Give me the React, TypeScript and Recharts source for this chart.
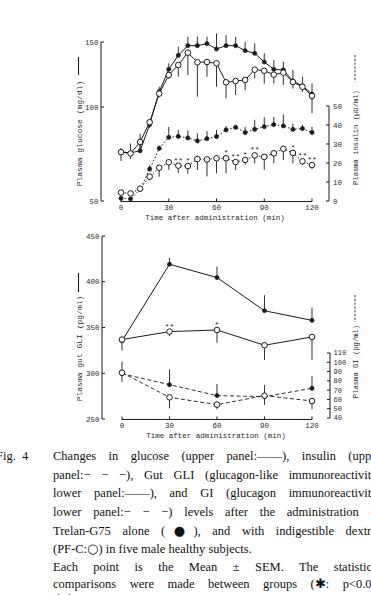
import React from 'react';
import { ComposedChart, Line, XAxis, YAxis, ErrorBar, ReferenceLine, LabelList } from 'recharts';

// ---- sampling times (min) ----
const upperTimes = [0, 6, 12, 18, 24, 30, 36, 42, 48, 54, 60, 66, 72, 78, 84, 90, 96, 102, 108, 114, 120];
const lowerTimes = [0, 30, 60, 90, 120];

// ---- plasma glucose (mg/dl), mean and SEM ----
const glucoseAlone = [76.1, 75.6, 76.7, 90.7, 111.8, 129.0, 139.7, 147.2, 147.2, 148.7, 144.6, 147.2, 147.2, 143.3, 141.3, 134.6, 129.0, 128.5, 120.0, 116.2, 110.0];
const glucoseAloneSem = [2, 5, 9, 2.5, 3.8, 4.6, 6.7, 6.9, 6.9, 5.4, 12, 8.2, 6.9, 6.9, 7.7, 6.7, 7.2, 6.4, 8.5, 7.2, 8.2];
const glucosePfc = [76.0, 75.3, 81.4, 91.9, 110.3, 124.6, 132.3, 141.8, 134.4, 134.6, 133.6, 119.0, 120.0, 120.8, 128.7, 127.9, 124.9, 126.4, 119.2, 115.6, 108.5];
const glucosePfcSem = [4.7, 3, 4, 3, 3, 3, 9, 17.2, 26.5, 11.3, 18, 12.3, 10.8, 7.8, 6.7, 9.9, 6.9, 9.4, 5, 4, 11.8];

// ---- plasma insulin (μU/ml), mean and SEM ----
const insulinAlone = [1.4, 1.1, 6.1, 16.8, 27.7, 33.5, 34.0, 33.2, 31.6, 32.8, 33.9, 37.4, 38.8, 36.0, 37.7, 39.1, 40.2, 39.5, 37.7, 38.1, 36.1];
const insulinAloneSem = [0, 0, 1, 2, 1.5, 5.5, 3.5, 4, 4, 4, 3.5, 2, 1, 3, 5, 5, 4, 6, 3, 2, 3];
const insulinPfc = [4.4, 4.0, 6.5, 12.8, 17.5, 20.4, 18.6, 18.4, 22.1, 21.9, 22.5, 22.5, 20.5, 21.6, 24.0, 23.2, 25.1, 27.5, 25.3, 20.9, 18.9];
const insulinPfcSem = [0, 1, 1, 2, 4.7, 4, 4, 4, 5.8, 9, 7.9, 7.9, 4.2, 2.6, 4.2, 6.8, 5.3, 6, 5.4, 2, 2];
const insulinPfcSig = ['', '', '', '', '', '', '**', '*', '', '', '', '*', '**', '*', '**', '', '', '', '*', '**', '**'];

// ---- gut GLI and GI (pg/ml), mean and SEM ----
const gliAlone = [335.3, 419.1, 404.6, 368.3, 357.8];
const gliAloneSem = [4, 7, 12, 17, 14];
const gliPfc = [336.8, 345.5, 347.3, 330.6, 339.7];
const gliPfcSem = [12, 5, 14, 16, 25];
const gliPfcSig = ['', '**', '*', '', ''];
const giAlone = [87.7, 75.9, 64.1, 63.0, 72.0];
const giAloneSem = [13, 16.5, 12.5, 12.5, 13];
const giPfc = [88.8, 62.3, 54.4, 64.1, 58.3];
const giPfcSem = [10, 12, 5, 10, 9];

// ---- axis ticks ----
const timeTicks = [0, 30, 60, 90, 120];
const glucoseTicks = [50, 100, 150];
const insulinTicks = [0, 10, 20, 30, 40, 50];
const gliTicks = [250, 300, 350, 400, 450];
const giTicks = [40, 50, 60, 70, 80, 90, 100, 110];

// ---- caption ----
const captionLines = [
  'Changes in glucose (upper panel:——), insulin (upper',
  'panel:− − −), Gut GLI (glucagon-like immunoreactivity;',
  'lower panel:——), and GI (glucagon immunoreactivity;',
  'lower panel:− − −) levels after the administration of',
  'Trelan-G75 alone (●), and with indigestible dextrin',
  '(PF-C:○) in five male healthy subjects.',
  'Each point is the Mean ± SEM. The statistical',
  'comparisons were made between groups (✱: p<0.05,',
  '✱✱: p<0.01).',
];
const captionJustified = [true, true, true, true, true, false, true, true, false];
const captionTops = [456, 474.5, 493, 512, 530.5, 549, 566.5, 584, 600];

const INK = '#1b1b1b';
const TEXT = '#2a2a2a';
const MONO = '"Liberation Mono", "DejaVu Sans Mono", monospace';
const SERIF = '"Liberation Serif", "DejaVu Serif", serif';

// Glucose axis uses a segmented scale: 50-100 takes the lower part of the axis,
// 100-150 the upper part, as on the printed figure.
function makeSegmentedScale(knots: number[], fracs: number[]) {
  const make = (dom: number[], rng: number[]): any => {
    const s: any = (v: number) => {
      if (v == null || Number.isNaN(Number(v))) return NaN;
      let i = 0;
      while (i < knots.length - 2 && v > knots[i + 1]) i++;
      const f = fracs[i] + ((v - knots[i]) / (knots[i + 1] - knots[i])) * (fracs[i + 1] - fracs[i]);
      return rng[0] + f * (rng[1] - rng[0]);
    };
    s.domain = (d?: number[]) => {
      if (d === undefined) return dom.slice();
      dom = d.slice();
      return s;
    };
    s.range = (r?: number[]) => {
      if (r === undefined) return rng.slice();
      rng = r.slice();
      return s;
    };
    s.copy = () => make(dom, rng);
    s.ticks = () => knots.slice();
    s.tickFormat = () => (v: number) => String(v);
    return s;
  };
  return make([knots[0], knots[knots.length - 1]], [0, 1]);
}

const glucoseScale = makeSegmentedScale(glucoseTicks, [0, 0.5912, 1]);

const upperData = upperTimes.map((t, i) => ({
  t,
  gA: glucoseAlone[i],
  gAe: [0, glucoseAloneSem[i]],
  gP: glucosePfc[i],
  gPe: [glucosePfcSem[i], 0],
  iA: insulinAlone[i],
  iAe: [0, insulinAloneSem[i]],
  iP: insulinPfc[i],
  iPe: [insulinPfcSem[i], 0],
  sig: insulinPfcSig[i],
}));

const lowerData = lowerTimes.map((t, i) => ({
  t,
  lA: gliAlone[i],
  lAe: [0, gliAloneSem[i]],
  lP: gliPfc[i],
  lPe: [gliPfcSem[i], 0],
  sig: gliPfcSig[i],
  cA: giAlone[i],
  cAe: [0, giAloneSem[i]],
  cP: giPfc[i],
  cPe: [giPfcSem[i], 0],
}));

const filledDot = { r: 2.1, fill: INK, stroke: INK, strokeWidth: 0.6, strokeDasharray: 'none' };
const openDot = { r: 2.8, fill: '#fff', stroke: INK, strokeWidth: 1, strokeDasharray: 'none' };
const tickText = { fontSize: 7.5, fontFamily: MONO, fill: TEXT };
const starStyle = { fontSize: 8, fontFamily: MONO, fill: INK };

function TimeTick(props: any) {
  const { x, y, payload } = props;
  return (
    <g>
      <line x1={x} y1={y + 0.8} x2={x} y2={y - 2.5} stroke={INK} strokeWidth={1} />
      <text x={x} y={y + 8.7} textAnchor="middle" fontSize={7.5} fontFamily={MONO} fill={TEXT}>
        {payload.value}
      </text>
    </g>
  );
}

const timeTitle = (props: any) => {
  const vb = props.viewBox || { x: 0, y: 0, width: 0 };
  return (
    <text x={vb.x + vb.width / 2} y={vb.y + 18.5} textAnchor="middle" fontSize={7.5} fontFamily={MONO} fill={TEXT}>
      Time after administration (min)
    </text>
  );
};

// Rotated axis title with a short line sample (solid or dashed) above it
function axisTitle(text: string, x: number, yCenter: number, fontSize: number, markFrom: number, markTo: number, dashed: boolean) {
  return () => (
    <g>
      <text
        x={x}
        y={yCenter}
        transform={`rotate(-90 ${x} ${yCenter})`}
        textAnchor="middle"
        dominantBaseline="central"
        fontSize={fontSize}
        fontFamily={MONO}
        fill={TEXT}
      >
        {text}
      </text>
      <line
        x1={x - 0.5}
        y1={markFrom}
        x2={x - 0.5}
        y2={markTo}
        stroke={INK}
        strokeWidth={dashed ? 0.9 : 1.1}
        strokeDasharray={dashed ? '2.2 1.6' : undefined}
      />
    </g>
  );
}

function UpperPanel() {
  return (
    <ComposedChart width={371} height={230} data={upperData} margin={{ top: 42, right: 0, bottom: 0, left: 71 }}>
      <XAxis
        dataKey="t"
        type="number"
        domain={[-12.57, 130.68]}
        ticks={timeTicks}
        interval={0}
        axisLine={false}
        tickLine={false}
        tickSize={0}
        tickMargin={0}
        height={29}
        tick={<TimeTick />}
        label={timeTitle}
      />
      <YAxis
        yAxisId="glu"
        type="number"
        scale={glucoseScale}
        domain={[50, 150]}
        ticks={glucoseTicks}
        interval={0}
        width={30}
        tickSize={-3}
        tickMargin={5.5}
        axisLine={{ stroke: INK, strokeWidth: 1 }}
        tickLine={{ stroke: INK, strokeWidth: 1 }}
        tick={tickText}
        label={axisTitle('Plasma glucose (mg/dl)', 79, 133.5, 8, 57, 75, false)}
      />
      <YAxis
        yAxisId="ins"
        orientation="right"
        type="number"
        scale="linear"
        domain={[0, 83.68]}
        ticks={insulinTicks}
        interval={0}
        width={42}
        tickSize={-3}
        tickMargin={7}
        axisLine={false}
        tickLine={{ stroke: INK, strokeWidth: 1 }}
        tick={tickText}
        label={axisTitle('Plasma insulin (μU/ml)', 355.5, 137.5, 7.2, 55, 82, true)}
      />
      <ReferenceLine yAxisId="ins" segment={[{ x: 0, y: -0.3 }, { x: 120, y: -0.3 }]} ifOverflow="visible" stroke={INK} strokeWidth={1} />
      <ReferenceLine yAxisId="ins" segment={[{ x: 130.68, y: 0 }, { x: 130.68, y: 50 }]} ifOverflow="visible" stroke={INK} strokeWidth={1} />

      <Line yAxisId="ins" dataKey="iA" stroke={INK} strokeWidth={1} strokeDasharray="1.6 2" dot={filledDot} isAnimationActive={false}>
        <ErrorBar dataKey="iAe" width={0} stroke={INK} strokeWidth={0.9} direction="y" />
      </Line>
      <Line yAxisId="ins" dataKey="iP" stroke={INK} strokeWidth={1} strokeDasharray="1.6 2" dot={openDot} isAnimationActive={false}>
        <ErrorBar dataKey="iPe" width={0} stroke={INK} strokeWidth={0.9} direction="y" />
        <LabelList dataKey="sig" position="top" offset={3} style={starStyle} />
      </Line>
      <Line yAxisId="glu" dataKey="gA" stroke={INK} strokeWidth={1} dot={filledDot} isAnimationActive={false}>
        <ErrorBar dataKey="gAe" width={0} stroke={INK} strokeWidth={0.9} direction="y" />
      </Line>
      <Line yAxisId="glu" dataKey="gP" stroke={INK} strokeWidth={1} dot={openDot} isAnimationActive={false}>
        <ErrorBar dataKey="gPe" width={0} stroke={INK} strokeWidth={0.9} direction="y" />
      </Line>
    </ComposedChart>
  );
}

function LowerPanel() {
  return (
    <ComposedChart width={371} height={225} data={lowerData} margin={{ top: 11, right: 0, bottom: 0, left: 72 }}>
      <XAxis
        dataKey="t"
        type="number"
        domain={[-12.63, 131.37]}
        ticks={timeTicks}
        interval={0}
        axisLine={false}
        tickLine={false}
        tickSize={0}
        tickMargin={0}
        height={31}
        tick={<TimeTick />}
        label={timeTitle}
      />
      <YAxis
        yAxisId="gli"
        type="number"
        scale="linear"
        domain={[250, 450]}
        ticks={gliTicks}
        interval={0}
        width={30}
        tickSize={-3}
        tickMargin={5.5}
        axisLine={{ stroke: INK, strokeWidth: 1 }}
        tickLine={{ stroke: INK, strokeWidth: 1 }}
        tick={tickText}
        label={axisTitle('Plasma gut GLI (pg/ml)', 79, 123.5, 8, 48, 67, false)}
      />
      <YAxis
        yAxisId="gi"
        orientation="right"
        type="number"
        scale="linear"
        domain={[38.92, 236]}
        ticks={giTicks}
        interval={0}
        width={41}
        tickSize={-3}
        tickMargin={6.5}
        axisLine={false}
        tickLine={{ stroke: INK, strokeWidth: 1 }}
        tick={{ ...tickText, fontSize: 7 }}
        label={axisTitle('Plasma GI (pg/ml)', 355.5, 136.5, 7.2, 70, 97, true)}
      />
      <ReferenceLine yAxisId="gi" segment={[{ x: 0, y: 38.4 }, { x: 120, y: 38.4 }]} ifOverflow="visible" stroke={INK} strokeWidth={1} />
      <ReferenceLine yAxisId="gi" segment={[{ x: 131.37, y: 40 }, { x: 131.37, y: 110 }]} ifOverflow="visible" stroke={INK} strokeWidth={1} />

      <Line yAxisId="gi" dataKey="cA" stroke={INK} strokeWidth={0.9} strokeDasharray="4 2.5" dot={filledDot} isAnimationActive={false}>
        <ErrorBar dataKey="cAe" width={0} stroke={INK} strokeWidth={0.9} direction="y" />
      </Line>
      <Line yAxisId="gi" dataKey="cP" stroke={INK} strokeWidth={0.9} strokeDasharray="4 2.5" dot={openDot} isAnimationActive={false}>
        <ErrorBar dataKey="cPe" width={0} stroke={INK} strokeWidth={0.9} direction="y" />
      </Line>
      <Line yAxisId="gli" dataKey="lA" stroke={INK} strokeWidth={1} dot={filledDot} isAnimationActive={false}>
        <ErrorBar dataKey="lAe" width={0} stroke={INK} strokeWidth={0.9} direction="y" />
      </Line>
      <Line yAxisId="gli" dataKey="lP" stroke={INK} strokeWidth={1} dot={openDot} isAnimationActive={false}>
        <ErrorBar dataKey="lPe" width={0} stroke={INK} strokeWidth={0.9} direction="y" />
        <LabelList dataKey="sig" position="top" offset={3} style={starStyle} />
      </Line>
    </ComposedChart>
  );
}

// Symbols in the caption are set a little larger than the running text
function captionRuns(line: string) {
  return line.split(/([●○])/).map((part, k) =>
    part === '●' || part === '○' ? (
      <span key={k} style={{ fontFamily: '"DejaVu Sans", sans-serif', fontSize: 13 }}>
        {part}
      </span>
    ) : (
      <React.Fragment key={k}>{part}</React.Fragment>
    )
  );
}

function Caption() {
  return (
    <>
      <div style={{ position: 'absolute', left: -4, top: captionTops[0] - 9, fontFamily: SERIF, fontSize: 12.5, lineHeight: '18px', color: '#111', whiteSpace: 'pre' }}>
        {'Fig.  4'}
      </div>
      {captionLines.map((line, i) => (
        <div
          key={i}
          style={{
            position: 'absolute',
            left: 53,
            top: captionTops[i] - 9,
            width: 328,
            fontFamily: SERIF,
            fontSize: 12.5,
            lineHeight: '18px',
            color: '#111',
            textAlign: captionJustified[i] ? 'justify' : 'left',
            textAlignLast: captionJustified[i] ? 'justify' : 'left',
            whiteSpace: 'normal',
          }}
        >
          {captionRuns(line)}
        </div>
      ))}
    </>
  );
}

export default function App() {
  return (
    <div style={{ position: 'absolute', left: 0, top: 0, width: 371, height: 595, overflow: 'hidden', background: '#fff' }}>
      <div style={{ position: 'absolute', left: 0, top: 0 }}>
        <UpperPanel />
      </div>
      <div style={{ position: 'absolute', left: 0, top: 225 }}>
        <LowerPanel />
      </div>
      <Caption />
    </div>
  );
}
